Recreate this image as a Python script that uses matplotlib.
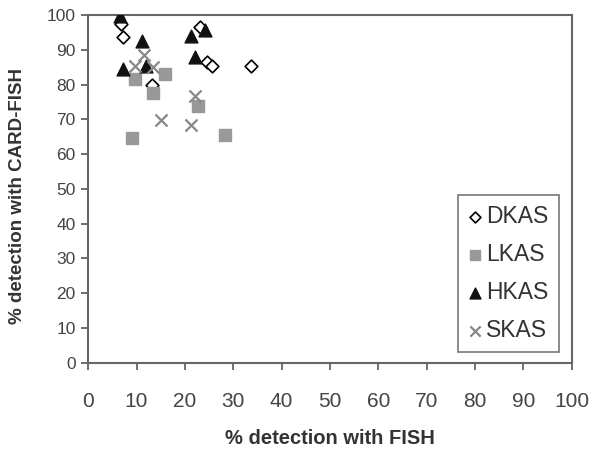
import matplotlib.pyplot as plt

plt.rcParams["font.family"] = ["Liberation Sans", "DejaVu Sans"]

# % detection with FISH (x) vs % detection with CARD-FISH (y)
dkas_x = [6.8, 7.1, 23.1, 24.5, 25.5, 33.6, 13.2]
dkas_y = [97.3, 93.8, 96.4, 86.4, 85.3, 85.2, 79.9]

lkas_x = [9.6, 15.8, 13.5, 22.8, 9.0, 28.2]
lkas_y = [81.6, 83.0, 77.5, 73.9, 64.5, 65.5]

hkas_x = [6.6, 11.2, 21.3, 24.2, 22.0, 7.1, 12.0]
hkas_y = [99.8, 92.5, 94.0, 95.7, 88.0, 84.5, 85.4]

skas_x = [11.6, 9.6, 13.5, 22.0, 15.1, 21.3]
skas_y = [88.5, 85.2, 85.0, 76.8, 69.8, 68.5]

xticks = list(range(0, 101, 10))
yticks = list(range(0, 101, 10))

fig = plt.figure(figsize=(6, 4.53), dpi=100)
ax = fig.add_axes([0.147, 0.199, 0.806, 0.768])

ax.scatter(dkas_x, dkas_y, marker="D", s=42, facecolors="white",
           edgecolors="black", linewidths=1.2, label="DKAS", zorder=3)
ax.scatter(lkas_x, lkas_y, marker="s", s=85, color="#999999",
           label="LKAS", zorder=3)
ax.scatter(hkas_x, hkas_y, marker="^", s=85, color="#111111",
           label="HKAS", zorder=3)
ax.scatter(skas_x, skas_y, marker="x", s=75, color="#888888",
           linewidths=1.6, label="SKAS", zorder=3)

ax.set_xlim(0, 100)
ax.set_ylim(0, 100)
ax.set_xticks(xticks)
ax.set_yticks(yticks)
ax.tick_params(axis="both", colors="#555555", labelcolor="#444444",
               width=1.2, length=5, direction="out")
ax.tick_params(axis="x", labelsize=15, pad=16)
ax.tick_params(axis="y", labelsize=12.5, pad=4)

for sp in ax.spines.values():
    sp.set_color("#666666")
    sp.set_linewidth(1.5)

ax.set_xlabel("% detection with FISH", fontsize=14.5, fontweight="bold",
              color="#333333")
ax.set_ylabel("% detection with CARD-FISH", fontsize=13.5, fontweight="bold",
              color="#333333")
ax.xaxis.set_label_coords(0.5, -0.19)
ax.yaxis.set_label_coords(-0.128, 0.48)

leg = ax.legend(loc="lower right", bbox_to_anchor=(0.99, 0.008),
                fontsize=16.5, frameon=True, fancybox=False,
                handletextpad=0.2, labelspacing=0.65, borderpad=0.45,
                handlelength=0.6, markerscale=0.85, borderaxespad=0.35)
leg.get_frame().set_edgecolor("#555555")
leg.get_frame().set_linewidth(1.2)
for t in leg.get_texts():
    t.set_color("#333333")

plt.savefig("out.png", dpi=100)
plt.close()
